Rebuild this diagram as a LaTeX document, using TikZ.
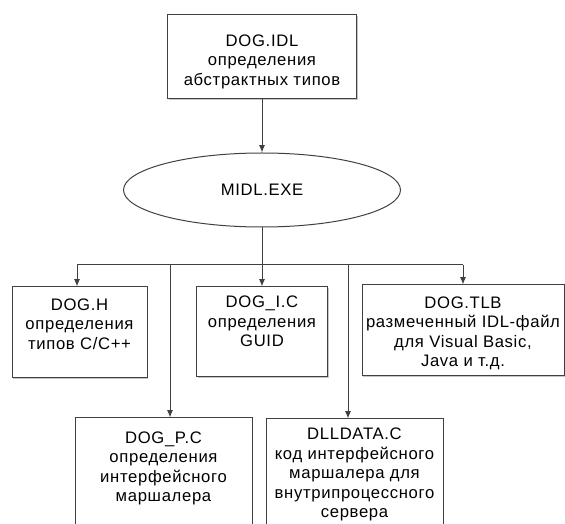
\documentclass[tikz,border=0pt]{standalone}
\usepackage{fontspec}
\setmainfont{Liberation Sans}[LetterSpace=4.0]
\usepackage{tikz}
\usetikzlibrary{shapes.geometric}
\usetikzlibrary{shadows}
\usetikzlibrary{positioning}
\usetikzlibrary{arrows.meta}

\tikzset{
  filebox/.style={draw=black!75, line width=0.75pt, fill=white, inner sep=0pt,
    drop shadow={shadow xshift=1pt, shadow yshift=-1pt, opacity=0.45, fill=black!50}},
  boxtxt/.style={align=center, inner sep=0pt, font=\fontsize{12.5}{14.6}\selectfont, text=black},
  arr/.style={draw=black!75, line width=0.75pt, -{Latex[length=5.5pt,width=4.5pt]}},
  wire/.style={draw=black!75, line width=0.75pt}
}

\begin{document}
\begin{tikzpicture}[x=0.75pt,y=0.75pt,yscale=-1,xscale=1]
\useasboundingbox (0,0) rectangle (565,524);
\clip (0,0) rectangle (565,524);

%Shape: Rectangle [id:idl]
\node[filebox, minimum width=141.75pt, minimum height=63pt] (idl) at (262,57) {};
%Shape: Ellipse [id:midl]
\node[ellipse, draw=black!75, line width=0.75pt, inner sep=0pt, minimum width=207.75pt, minimum height=55.5pt, font=\fontsize{12.5}{15}\selectfont] (midl) at (262,190) {MIDL.EXE};

%Shape: Rectangle [id:h]
\node[filebox, minimum width=101.25pt, minimum height=68.25pt] (h) at (79.5,332.5) {};
%Shape: Rectangle [id:ic]
\node[filebox, minimum width=98.25pt, minimum height=67.5pt] (ic) at (262,332) {};
%Shape: Rectangle [id:tlb]
\node[filebox, minimum width=151.5pt, minimum height=68.25pt] (tlb) at (463,330.5) {};
%Shape: Rectangle [id:pc]
\node[filebox, minimum width=132.75pt, minimum height=95.25pt] (pc) at (163.5,481.5) {};
%Shape: Rectangle [id:dll]
\node[filebox, minimum width=132.75pt, minimum height=94.5pt] (dll) at (354.5,482) {};

% Text Node
\node[boxtxt, below=15pt of idl.north] (idl-txt) {DOG.IDL\\определения\\абстрактных типов};
% Text Node
\node[boxtxt, below=9pt of h.north] (h-txt) {DOG.H\\определения\\типов C/C++};
% Text Node
\node[boxtxt, below=7pt of ic.north] (ic-txt) {DOG\_I.C\\определения\\GUID};
% Text Node
\node[boxtxt, below=9pt of tlb.north] (tlb-txt) {DOG.TLB\\размеченный IDL-файл\\для Visual Basic,\\Java и т.д.};
% Text Node
\node[boxtxt, below=10.5pt of pc.north] (pc-txt) {DOG\_P.C\\определения\\интерфейсного\\маршалера};
% Text Node
\node[boxtxt, below=7pt of dll.north] (dll-txt) {DLLDATA.C\\код интерфейсного\\маршалера для\\внутрипроцессного\\сервера};

%Straight Lines [id:bar]
\coordinate (b1) at (77,265);
\coordinate (b2) at (170,265);
\coordinate (b4) at (348,265);
\coordinate (b5) at (463,265);
\draw[wire] (b1) -- (b5);

\draw[arr] (idl.south) -- (idl.south |- midl.north);
\draw[arr] (midl.south) -- (midl.south |- ic.north);
\draw[arr] (b1) -- (b1 |- h.north);
\draw[arr] (b2) -- (b2 |- pc.north);
\draw[arr] (b4) -- (b4 |- dll.north);
\draw[arr] (b5) -- (b5 |- tlb.north);
\end{tikzpicture}
\end{document}
